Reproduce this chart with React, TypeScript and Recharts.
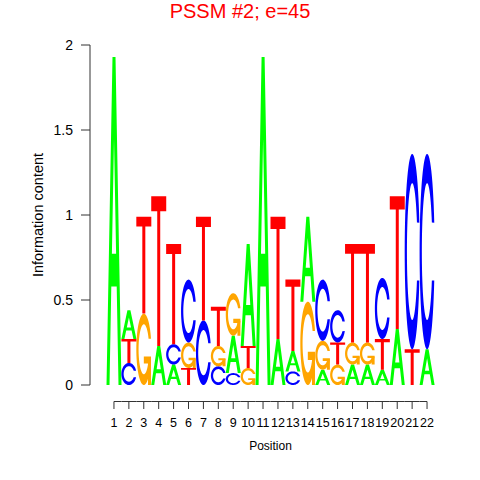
import { BarChart, Bar, XAxis, YAxis } from 'recharts'

// sequence logo, letters stacked bottom -> top per position
const positions = ['1', '2', '3', '4', '5', '6', '7', '8', '9', '10', '11', '12', '13', '14', '15', '16', '17', '18', '19', '20', '21', '22']

const slot0Letters = ['A', 'C', 'G', 'A', 'A', 'T', 'C', 'C', 'C', 'G', 'A', 'A', 'C', 'G', 'A', 'G', 'A', 'A', 'A', 'A', 'T', 'A']
const slot0Bits = [1.93, 0.13, 0.42, 0.23, 0.12, 0.1, 0.38, 0.11, 0.07, 0.1, 1.93, 0.27, 0.08, 0.49, 0.09, 0.12, 0.12, 0.12, 0.09, 0.33, 0.21, 0.21]

const slot1Letters = ['', 'T', 'T', 'T', 'C', 'G', 'T', 'G', 'A', 'T', '', 'T', 'A', 'A', 'G', 'T', 'G', 'G', 'T', 'T', 'C', 'C']
const slot1Bits = [0, 0.14, 0.57, 0.88, 0.12, 0.15, 0.61, 0.12, 0.22, 0.13, 0, 0.72, 0.12, 0.5, 0.17, 0.13, 0.13, 0.13, 0.18, 0.78, 1.15, 1.15]

const slot2Letters = ['', 'A', '', '', 'T', 'C', '', 'T', 'G', 'A', '', '', 'T', '', 'C', 'C', 'T', 'T', 'C', '', '', '']
const slot2Bits = [0, 0.17, 0, 0, 0.59, 0.37, 0, 0.23, 0.25, 0.6, 0, 0, 0.42, 0, 0.36, 0.19, 0.58, 0.58, 0.36, 0, 0, 0]

const yTicks = [0, 0.5, 1, 1.5, 2]

const letterColors: Record<string, string> = {
  A: '#00FF00',
  C: '#0000FF',
  G: '#FFA500',
  T: '#FF0000',
}

const data = positions.map((pos, i) => ({
  pos,
  b0: slot0Bits[i],
  b1: slot1Bits[i],
  b2: slot2Bits[i],
  l0: slot0Letters[i],
  l1: slot1Letters[i],
  l2: slot2Letters[i],
}))

const W = 480
const H = 480
const PLOT_LEFT = 90
const X_PAD = 16.5
const PLOT_RIGHT = 434.5
const BAND = (PLOT_RIGHT - PLOT_LEFT - X_PAD) / positions.length
const FONT = '"Liberation Sans", Arial, Helvetica, sans-serif'

type Pt = [number, number]

function ring(): Pt[] {
  const pts: Pt[] = []
  const n = 60
  const a0 = 0.3
  const a1 = 2 * Math.PI - 0.3
  for (let k = 0; k <= n; k++) {
    const a = a0 + ((a1 - a0) * k) / n
    pts.push([0.5 + 0.5 * Math.cos(a), 0.5 + 0.5 * Math.sin(a)])
  }
  const b0 = 2 * Math.PI - 0.437
  const b1 = 0.437
  for (let k = 0; k <= n; k++) {
    const a = b0 + ((b1 - b0) * k) / n
    pts.push([0.5 + 0.35 * Math.cos(a), 0.5 + 0.35 * Math.sin(a)])
  }
  return pts
}

const RING = ring()
const A_OUT: Pt[] = [[0, 0], [0.4, 1], [0.6, 1], [1, 0], [0.8, 0], [0.68, 0.3], [0.32, 0.3], [0.2, 0]]
const A_HOLE: Pt[] = [[0.36, 0.4], [0.5, 0.75], [0.64, 0.4]]
const T_PTS: Pt[] = [[0, 1], [1, 1], [1, 0.9], [0.6, 0.9], [0.6, 0], [0.4, 0], [0.4, 0.9], [0, 0.9]]
const G_BAR: Pt[] = [[0.978, 0.4], [0.5, 0.4], [0.5, 0.3], [0.778, 0.3], [0.778, 0], [0.978, 0]]

function letterPaths(letter: string, x: number, y: number, w: number, h: number) {
  const P = (pts: Pt[]) =>
    'M' + pts.map(([u, v]) => `${(x + u * w).toFixed(2)},${(y + (1 - v) * h).toFixed(2)}`).join('L') + 'Z'
  if (letter === 'A') return [P(A_OUT) + P(A_HOLE)]
  if (letter === 'T') return [P(T_PTS)]
  if (letter === 'C') return [P(RING)]
  if (letter === 'G') return [P(RING), P(G_BAR)]
  return []
}

const makeLetter = (key: 'l0' | 'l1' | 'l2') => (props: any) => {
  const { x, y, width, height, payload } = props
  const letter = payload?.[key]
  if (!letter || !height || height <= 0) return <g />
  return (
    <g>
      {letterPaths(letter, x, y, width, height).map((d, i) => (
        <path key={i} d={d} fill={letterColors[letter]} fillRule="evenodd" />
      ))}
    </g>
  )
}

const PositionTick = (props: any) => {
  const { x, y, index, payload } = props
  const last = positions.length - 1
  const x1 = index === 0 ? x : x - BAND / 2
  const x2 = index === last ? x : x + BAND / 2
  return (
    <g>
      <line x1={x1} x2={x2} y1={y + 16.5} y2={y + 16.5} stroke="#333" />
      <line x1={x} x2={x} y1={y + 16.5} y2={y + 24} stroke="#333" />
      <text x={x} y={y + 42} textAnchor="middle" fontSize={12.5} fontFamily={FONT} fill="#000">
        {payload.value}
      </text>
    </g>
  )
}

export default function App() {
  return (
    <div style={{ position: 'fixed', left: 0, top: 0, width: W, height: H, background: '#fff' }}>
      <div
        style={{
          position: 'absolute',
          top: 0,
          left: 0,
          width: W,
          textAlign: 'center',
          fontFamily: FONT,
          fontSize: 20,
          lineHeight: '22px',
          color: '#FF0000',
        }}
      >
        PSSM #2; e=45
      </div>
      <BarChart
        width={W}
        height={H}
        data={data}
        barCategoryGap={0}
        margin={{ top: 45, right: W - PLOT_RIGHT, bottom: 65, left: PLOT_LEFT - 60 }}
      >
        <XAxis
          dataKey="pos"
          interval={0}
          axisLine={false}
          tickLine={false}
          tickSize={0}
          tickMargin={0}
          height={30}
          padding={{ left: X_PAD, right: 0 }}
          tick={<PositionTick />}
          label={{
            content: (p: any) => {
              const vb = p.viewBox
              return (
                <text
                  x={vb.x + X_PAD + (vb.width - X_PAD) / 2}
                  y={vb.y + 65}
                  textAnchor="middle"
                  fontSize={12}
                  fontFamily={FONT}
                  fill="#000"
                >
                  Position
                </text>
              )
            },
          }}
        />
        <YAxis
          type="number"
          domain={[0, 2]}
          ticks={yTicks}
          width={60}
          tickSize={9}
          tickMargin={8}
          axisLine={{ stroke: '#333' }}
          tickLine={{ stroke: '#333' }}
          tick={{ fill: '#000', fontSize: 14, fontFamily: FONT }}
          label={{
            content: (p: any) => {
              const vb = p.viewBox
              const cx = vb.x + 8
              const cy = vb.y + vb.height / 2
              return (
                <text
                  x={cx}
                  y={cy}
                  transform={`rotate(-90 ${cx} ${cy})`}
                  textAnchor="middle"
                  dominantBaseline="central"
                  fontSize={14.5}
                  fontFamily={FONT}
                  fill="#000"
                >
                  Information content
                </text>
              )
            },
          }}
        />
        <Bar dataKey="b0" stackId="logo" isAnimationActive={false} shape={makeLetter('l0')} />
        <Bar dataKey="b1" stackId="logo" isAnimationActive={false} shape={makeLetter('l1')} />
        <Bar dataKey="b2" stackId="logo" isAnimationActive={false} shape={makeLetter('l2')} />
      </BarChart>
    </div>
  )
}
